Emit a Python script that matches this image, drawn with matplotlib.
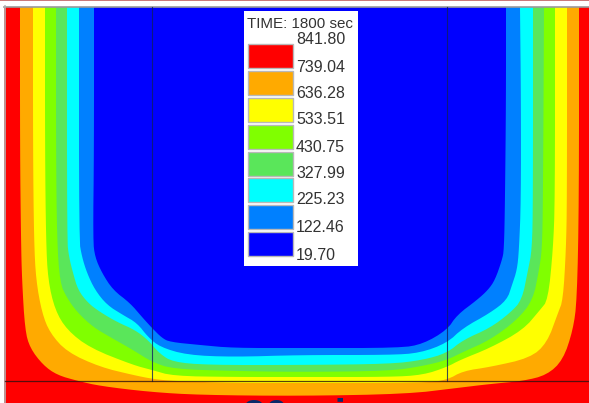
import matplotlib
matplotlib.use("Agg")
import matplotlib.pyplot as plt

levels = ["841.80", "739.04", "636.28", "533.51", "430.75", "327.99", "225.23", "122.46", "19.70"]
colors = ["#ff0000", "#ffaa00", "#ffff00", "#80ff00", "#5ae65a", "#00ffff", "#0080ff", "#0000ff"]
title = "TIME: 1800 sec"
caption = "30 min"

# contour boundaries, outermost to innermost (x, y)
c_orange = [(20,7),(20,150),(21,240),(22,280),(25,330),(30,348),(43,365),(57,375),(78,381),(100,386),(150,392),(200,395),(300,396),(407,394),(457,388),(490,384),(523,381),(547,375),(563,360),(573,330),(577,300),(579,200),(579,7)]
c_yellow = [(33,7),(33,150),(34,240),(36,280),(42,313),(50,333),(67,352),(100,367),(133,375),(153,379),(173,381),(233,383),(300,383),(423,383),(447,380),(463,371),(490,367),(530,358),(547,343),(558,313),(563,300),(566,250),(567,200),(567,7)]
c_green = [(45,7),(45,150),(46,240),(48,280),(55,310),(67,330),(90,348),(133,365),(152,370),(173,376),(233,377),(300,377),(390,377),(423,375),(447,367),(460,360),(490,348),(523,330),(540,310),(548,300),(553,250),(555,200),(555,7)]
c_lgreen = [(56,7),(56,150),(57,240),(60,283),(67,298),(77,312),(93,327),(110,337),(133,350),(152,362),(173,369),(233,371),(300,372),(390,371),(423,366),(447,360),(463,352),(490,340),(517,320),(533,300),(539,270),(542,250),(543,200),(544,7)]
c_cyan = [(67,7),(67,240),(69,257),(73,273),(78,290),(88,303),(100,312),(117,322),(135,330),(148,340),(160,354),(173,362),(207,365),(300,365),(390,364),(423,360),(447,353),(463,340),(490,328),(510,313),(522,300),(528,270),(532,250),(533,200),(533,7)]
c_blue = [(79,7),(79,240),(82,257),(87,273),(95,290),(107,305),(123,315),(137,323),(148,337),(160,347),(187,355),(233,357),(300,355),(390,355),(420,353),(447,343),(463,328),(490,313),(507,300),(512,285),(517,270),(519,250),(521,200),(521,100),(520,7)]
c_dblue = [(94,7),(94,150),(93,240),(95,257),(102,273),(113,290),(130,303),(142,317),(152,328),(162,338),(170,342),(200,345),(233,348),(300,348),(400,348),(423,344),(447,330),(457,315),(477,300),(488,290),(495,280),(502,260),(504,250),(505,200),(506,100),(506,7)]
contours = [c_orange, c_yellow, c_green, c_lgreen, c_cyan, c_blue, c_dblue]


def rounded(points, passes=2):
    """Round the corners of a read-off polyline, keeping its end points."""
    for _ in range(passes):
        out = [points[0]]
        for a, b in zip(points[:-1], points[1:]):
            out.append((0.75 * a[0] + 0.25 * b[0], 0.75 * a[1] + 0.25 * b[1]))
            out.append((0.25 * a[0] + 0.75 * b[0], 0.25 * a[1] + 0.75 * b[1]))
        out.append(points[-1])
        points = out
    return points


fig = plt.figure(figsize=(5.89, 4.03), dpi=100)
ax = fig.add_axes([0, 0, 1, 1])
ax.set_xlim(0, 589)
ax.set_ylim(403, 0)
ax.axis("off")

ax.fill([4, 589, 589, 4], [7, 7, 403, 403], color=colors[0], lw=0)
for c, col in zip(contours, colors[1:]):
    r = rounded(c)
    ax.fill([p[0] for p in r], [p[1] for p in r], color=col, lw=0)

ax.plot([4, 589], [6.5, 6.5], color="#9a9a9a", lw=1.2)
ax.plot([4.5, 4.5], [6, 403], color="#b0b0b0", lw=1.2)
ax.plot([0, 589], [0.3, 0.3], color="#c06060", lw=1.2)
ax.plot([152, 152], [7, 381], color="#102060", lw=0.8, alpha=0.8)
ax.plot([447, 447], [7, 381], color="#102060", lw=0.8, alpha=0.8)
ax.plot([5, 589], [381, 381], color="#301010", lw=0.9, alpha=0.8)

# legend
ax.fill([244, 358, 358, 244], [11, 11, 266, 266], color="white", lw=0, zorder=5)
tops = [44, 71, 98, 125, 152, 178, 205, 232]
for top, col in zip(tops, colors):
    ax.fill([248, 293, 293, 248], [top, top, top + 24, top + 24], facecolor=col,
            edgecolor="#b8b8b8", lw=1, zorder=6)
font = dict(family="Liberation Sans", color="#333333", zorder=7, va="center", ha="left")
ax.text(247, 24, title, fontsize=10.9, **font)
ypos = [40, 67, 94, 120, 147, 173, 200, 228, 255]
for y, lab in zip(ypos, levels):
    ax.text(296, y, lab, fontsize=11.5, **font)

ax.text(243, 428, caption, fontsize=29, family="Liberation Sans", weight="bold",
        color="#0a2a6a", ha="left", va="baseline", clip_on=True)

fig.savefig("out.png", dpi=100)
